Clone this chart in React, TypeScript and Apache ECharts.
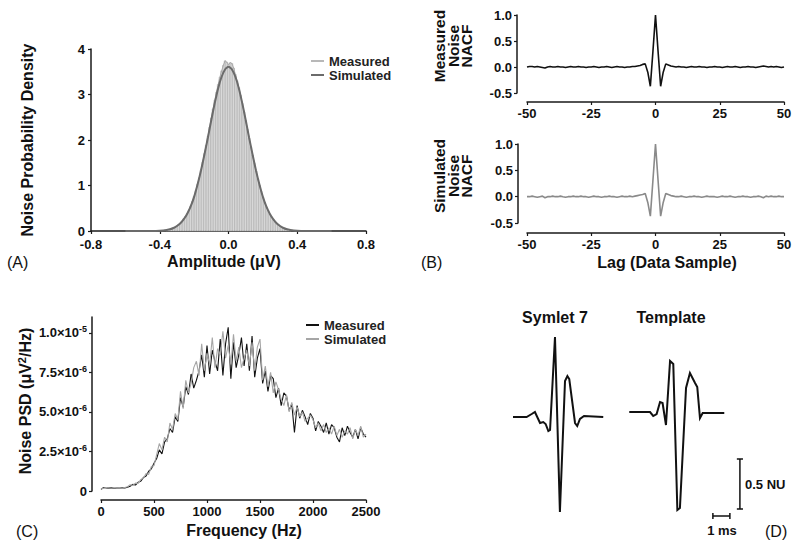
import React, { useEffect, useRef } from 'react';
import * as echarts from 'echarts';

const FONT = '"Liberation Sans", Arial, Helvetica, sans-serif';

// ---------- Panel A: noise amplitude distribution ----------
const histBinWidth = 0.01;
const histCenters = Array.from({ length: 73 }, (_, i) => Math.round((-0.36 + i * 0.01) * 100) / 100);
const measuredHist = [
  0.02, 0.03, 0.04, 0.05, 0.07, 0.08, 0.11, 0.14, 0.17, 0.21,
  0.27, 0.32, 0.39, 0.46, 0.55, 0.65, 0.76, 0.89, 1.03, 1.17,
  1.34, 1.51, 1.70, 1.88, 2.08, 2.28, 2.48, 2.68, 2.87, 3.05,
  3.22, 3.38, 3.52, 3.64, 3.74, 3.71,
  3.66,
  3.70, 3.68, 3.58, 3.44, 3.30, 3.15, 2.98, 2.80, 2.62, 2.43,
  2.24, 2.04, 1.85, 1.67, 1.49, 1.32, 1.15, 1.01, 0.87, 0.74,
  0.63, 0.53, 0.45, 0.37, 0.31, 0.25, 0.20, 0.16, 0.13, 0.10,
  0.08, 0.06, 0.05, 0.04, 0.03, 0.02,
];
const simAmp = [
  -0.60, -0.50, -0.44, -0.40, -0.38, -0.36, -0.34, -0.32, -0.30, -0.28, -0.26, -0.24,
  -0.22, -0.20, -0.18, -0.16, -0.14, -0.12, -0.10, -0.08, -0.06, -0.04, -0.02, 0.00,
  0.02, 0.04, 0.06, 0.08, 0.10, 0.12, 0.14, 0.16, 0.18, 0.20, 0.22, 0.24,
  0.26, 0.28, 0.30, 0.32, 0.34, 0.36, 0.38, 0.40, 0.44, 0.50, 0.60,
];
const simDensity = [
  0, 0.001, 0.002, 0.007, 0.012, 0.023, 0.039, 0.066, 0.11, 0.17, 0.26, 0.38,
  0.54, 0.75, 1.02, 1.33, 1.68, 2.05, 2.44, 2.81, 3.14, 3.39, 3.55, 3.61,
  3.55, 3.39, 3.14, 2.81, 2.44, 2.05, 1.68, 1.33, 1.02, 0.75, 0.54, 0.38,
  0.26, 0.17, 0.11, 0.066, 0.039, 0.023, 0.012, 0.007, 0.002, 0.001, 0,
];
const ampTicks = [-0.8, -0.4, 0, 0.4, 0.8];

// ---------- Panel B: normalized autocorrelation ----------
const lags = Array.from({ length: 101 }, (_, i) => i - 50);
const nacfMeasured = [
  0.00, 0.01, 0.01, 0.00, 0.01, 0.00, -0.01, -0.02, 0.00, 0.01,
  0.00, 0.00, 0.01, 0.00, 0.00, -0.01, 0.00, 0.01, 0.00, 0.00,
  0.01, 0.00, 0.00, -0.01, 0.00, 0.00, 0.01, 0.00, -0.01, 0.00,
  0.00, 0.01, 0.00, -0.01, 0.00, 0.01, 0.00, 0.00, -0.01, 0.00,
  0.00, 0.01,
  0.01, 0.02, 0.03, 0.05, 0.06, -0.10, -0.37, 0.30, 1.00, 0.30, -0.37, -0.10, 0.06, 0.04, 0.02, 0.01, 0.00,
  0.01, 0.00, 0.00, -0.01, 0.00, 0.01, 0.00, 0.00, 0.01, 0.00,
  0.00, -0.01, 0.00, 0.00, 0.01, 0.00, 0.00, -0.01, 0.00, 0.01,
  0.00, 0.00, 0.01, 0.00, -0.01, 0.00, 0.00, 0.01, 0.00, 0.00,
  -0.01, 0.00, 0.01, 0.02, 0.01, 0.00, 0.01, 0.00, 0.01, 0.00,
  -0.01, 0.00,
];
const nacfSimulated = [
  0.00, 0.00, 0.01, 0.00, -0.01, 0.00, 0.01, -0.02, 0.00, 0.00,
  0.01, 0.00, 0.00, 0.01, 0.00, -0.01, 0.00, 0.00, 0.01, 0.00,
  0.00, 0.01, 0.00, 0.00, -0.01, 0.00, 0.01, 0.00, 0.00, -0.01,
  0.00, 0.00, 0.01, 0.00, 0.00, -0.01, 0.00, 0.01, 0.00, 0.00,
  0.01, 0.00,
  0.01, 0.02, 0.03, 0.04, 0.06, -0.11, -0.37, 0.31, 1.00, 0.31, -0.37, -0.11, 0.06, 0.04, 0.02, 0.01, 0.00,
  0.00, 0.01, 0.00, -0.01, 0.00, 0.00, 0.01, 0.00, 0.00, -0.01,
  0.00, 0.01, 0.00, 0.00, 0.00, -0.01, 0.00, 0.01, 0.00, 0.00,
  0.01, 0.00, -0.01, 0.00, 0.00, 0.01, 0.00, 0.00, -0.01, 0.00,
  0.00, 0.01, 0.00, -0.02, 0.01, 0.00, 0.01, 0.00, 0.00, 0.01,
  0.00, 0.00,
];

// ---------- Panel C: power spectral density (units of 1e-6 µV²/Hz) ----------
const psdFreq = Array.from({ length: 101 }, (_, i) => i * 25);
const psdMeasured = [
  0.10, 0.22, 0.20, 0.18, 0.20, 0.17, 0.19, 0.18, 0.20, 0.19,
  0.24, 0.30, 0.42, 0.38, 0.55, 0.62, 0.85, 0.95, 1.25, 1.40,
  1.75, 2.05, 2.60, 2.35, 3.10, 3.30, 3.95, 3.70, 4.70, 4.40,
  5.90, 5.30, 6.60, 6.10, 7.40, 6.50, 7.00, 7.60, 8.60, 7.20,
  9.20, 7.40, 8.90, 8.20, 7.60, 9.60, 7.30, 9.30, 10.35, 7.10,
  9.40, 7.80, 8.60, 9.70, 7.90, 9.30, 7.60, 9.80, 7.20, 8.40,
  9.00, 6.80, 7.60, 6.30, 7.30, 7.10, 5.90, 6.50, 5.40, 6.20,
  6.00, 5.10, 5.50, 3.70, 5.40, 4.60, 5.10, 4.70, 4.20, 4.90,
  4.60, 3.80, 4.40, 4.10, 3.70, 4.30, 3.60, 4.20, 4.00, 3.40,
  3.10, 4.00, 3.50, 4.10, 3.70, 3.40, 3.90, 3.30, 4.00, 3.60,
  3.40,
];
const psdSimulated = [
  0.12, 0.18, 0.22, 0.19, 0.17, 0.21, 0.18, 0.20, 0.17, 0.22,
  0.27, 0.40, 0.35, 0.50, 0.48, 0.72, 0.80, 1.10, 1.05, 1.55,
  1.60, 2.30, 3.00, 2.60, 3.40, 3.10, 4.30, 3.90, 4.90, 4.50,
  6.30, 5.20, 7.00, 6.20, 6.80, 7.80, 8.20, 7.30, 9.30, 7.60,
  8.70, 8.00, 9.70, 7.80, 9.00, 8.60, 10.10, 8.40, 9.20, 8.00,
  9.90, 8.20, 9.10, 7.80, 8.40, 8.90, 7.90, 9.40, 7.60, 9.10,
  9.60, 7.00, 7.90, 6.60, 7.50, 6.20, 6.90, 6.40, 5.80, 5.40,
  6.10, 5.00, 5.60, 4.80, 5.30, 4.70, 5.00, 4.40, 4.60, 4.80,
  4.50, 4.00, 4.30, 3.80, 4.20, 3.70, 4.00, 3.60, 4.10, 3.50,
  3.90, 3.40, 3.80, 3.60, 4.00, 3.30, 3.90, 3.50, 4.10, 3.40,
  3.60,
];
const psdTickValues = [0, 2.5, 5, 7.5, 10];
const psdTickLabels: Record<string, string> = {
  '0': '0',
  '2.5': '{m|2.5×10}{s|-6}',
  '5': '{m|5.0×10}{s|-6}',
  '7.5': '{m|7.5×10}{s|-6}',
  '10': '{m|1.0×10}{s|-5}',
};

// ---------- Panel D: wavelet vs template (time in ms, amplitude in NU) ----------
const symletT = [0, 0.8, 1.10, 1.29, 1.59, 1.78, 1.92, 2.08, 2.18, 2.47, 2.76, 3.06, 3.20, 3.31, 3.65, 3.78, 3.94, 4.18, 5.31];
const symletA = [0, 0, 0.03, 0.05, -0.06, -0.05, -0.07, -0.14, -0.13, 0.80, -0.95, 0.36, 0.41, 0.38, -0.06, -0.09, -0.02, 0.01, 0];
const templateT = [6.84, 8.06, 8.25, 8.45, 8.65, 8.80, 9.00, 9.24, 9.43, 9.67, 9.82, 10.18, 10.41, 10.71, 10.84, 11.00, 11.16, 12.43];
const templateA = [0.05, 0.05, 0.01, 0.03, 0.15, 0.14, -0.08, 0.56, 0.53, -0.93, -0.91, 0.29, 0.44, 0.34, 0.30, -0.01, 0.04, 0.04];
const scaleBarNU = 0.5;
const scaleBarMs = 1;

const zip = (a: number[], b: number[]) => a.map((v, i) => [v, b[i]]);

const AX = '#1a1a1a';
const TICK_FONT = 13;
const axisBase = (extra: any = {}) => ({
  type: 'value',
  axisLine: { show: true, onZero: false, lineStyle: { color: AX, width: 1.5 } },
  axisTick: { show: true, length: 3, lineStyle: { color: AX, width: 1.2 } },
  splitLine: { show: false },
  ...extra,
  axisLabel: {
    color: '#111', fontFamily: FONT, fontWeight: 'bold', fontSize: TICK_FONT, margin: 5, lineHeight: 13,
    ...(extra.axisLabel || {}),
  },
});

const txt = (text: string, x: number, y: number, opts: any = {}) => ({
  type: 'text',
  x,
  y,
  rotation: opts.rotate ? Math.PI / 2 : 0,
  silent: true,
  style: {
    text,
    fontFamily: FONT,
    fontSize: opts.size || 16,
    fontWeight: opts.weight || 'bold',
    fill: '#111',
    align: opts.align || 'center',
    verticalAlign: 'middle',
    lineHeight: opts.lineHeight || undefined,
    rich: opts.rich || undefined,
  },
});

export default function App() {
  const ref = useRef<HTMLDivElement>(null);
  useEffect(() => {
    const chart = echarts.init(ref.current!, null, { renderer: 'svg' });

    // scale bar geometry in data units (panel D)
    const vx = 13.35, vy0 = -0.92, capW = 0.18;
    const hy = -0.99, hx0 = 11.76, capH = 0.03;
    const vBar = [[vx, vy0], [vx, vy0 + scaleBarNU]];
    const vCapTop = [[vx - capW, vy0 + scaleBarNU], [vx + capW, vy0 + scaleBarNU]];
    const vCapBot = [[vx - capW, vy0], [vx + capW, vy0]];
    const hBar = [[hx0, hy], [hx0 + scaleBarMs, hy]];
    const hCapL = [[hx0, hy - capH], [hx0, hy + capH]];
    const hCapR = [[hx0 + scaleBarMs, hy - capH], [hx0 + scaleBarMs, hy + capH]];
    const barSeries = (data: number[][]) => ({
      type: 'line', xAxisIndex: 4, yAxisIndex: 4, data, symbol: 'none', silent: true,
      lineStyle: { color: '#111', width: 1.5, cap: 'butt' },
    });

    const legendCommon = {
      orient: 'vertical', icon: 'rect', itemWidth: 13, itemHeight: 2, itemGap: 0,
      selectedMode: false,
      formatter: (n: string) => n.split(' (')[0],
      textStyle: { fontFamily: FONT, fontWeight: 'bold', fontSize: 13, color: '#222', lineHeight: 14 },
    };

    const option: any = {
      animation: false,
      backgroundColor: '#fff',
      grid: [
        { left: 91, top: 49, width: 275, height: 182, containLabel: false, outerBoundsMode: 'none' },
        { left: 527, top: 15, width: 257, height: 78, containLabel: false, outerBoundsMode: 'none' },
        { left: 527, top: 144, width: 257, height: 79, containLabel: false, outerBoundsMode: 'none' },
        { left: 101, top: 317, width: 265, height: 174, containLabel: false, outerBoundsMode: 'none' },
        { left: 513, top: 330, width: 240, height: 190, containLabel: false, outerBoundsMode: 'none' },
      ],
      xAxis: [
        axisBase({ gridIndex: 0, min: ampTicks[0], max: ampTicks[ampTicks.length - 1], interval: 0.4,
          axisLabel: { formatter: (v: number) => v.toFixed(1), margin: 7 } }),
        axisBase({ gridIndex: 1, min: -50, max: 50, interval: 25, offset: 9 }),
        axisBase({ gridIndex: 2, min: -50, max: 50, interval: 25, offset: 10 }),
        axisBase({ gridIndex: 3, min: 0, max: 2500, interval: 500, offset: 9,
          axisLabel: { formatter: (v: number) => String(v) } }),
        { type: 'value', gridIndex: 4, min: 0, max: 14.12, show: false },
      ],
      yAxis: [
        axisBase({ gridIndex: 0, min: 0, max: 4, interval: 1, axisLabel: { margin: 6, lineHeight: 11 } }),
        axisBase({ gridIndex: 1, min: -0.5, max: 1, interval: 0.5, offset: 10,
          axisLabel: { formatter: (v: number) => v.toFixed(1) } }),
        axisBase({ gridIndex: 2, min: -0.5, max: 1, interval: 0.5, offset: 9,
          axisLabel: { formatter: (v: number) => v.toFixed(1) } }),
        axisBase({ gridIndex: 3, min: 0, max: 11, offset: 9,
          axisTick: { show: true, length: 3, customValues: psdTickValues, lineStyle: { color: AX, width: 1.2 } },
          axisLabel: {
            customValues: psdTickValues,
            formatter: (v: number) => psdTickLabels[String(v)] ?? '',
            rich: {
              m: { fontFamily: FONT, fontWeight: 'bold', fontSize: 13, color: '#111', lineHeight: 16 },
              s: { fontFamily: FONT, fontWeight: 'bold', fontSize: 9, color: '#111', verticalAlign: 'top', lineHeight: 16 },
            },
          } }),
        { type: 'value', gridIndex: 4, min: -1.03, max: 0.87, show: false },
      ],
      legend: [
        { ...legendCommon, left: 306, top: 49, data: ['Measured (A)', 'Simulated (A)'] },
        { ...legendCommon, left: 301, top: 313, data: ['Measured (C)', 'Simulated (C)'] },
      ],
      series: [
        {
          type: 'custom', name: 'hist', xAxisIndex: 0, yAxisIndex: 0,
          data: zip(histCenters, measuredHist),
          renderItem: (params: any, api: any) => {
            const x = api.value(0), y = api.value(1);
            const p0 = api.coord([x - histBinWidth / 2, y]);
            const p1 = api.coord([x + histBinWidth / 2, 0]);
            return {
              type: 'rect',
              shape: { x: p0[0], y: p0[1], width: p1[0] - p0[0], height: p1[1] - p0[1] },
              style: { fill: '#e2e2e2', stroke: '#a0a0a0', lineWidth: 0.5 },
            };
          },
        },
        {
          type: 'line', name: 'Measured (A)', xAxisIndex: 0, yAxisIndex: 0,
          data: zip(histCenters, measuredHist), symbol: 'none',
          itemStyle: { color: '#b8b8b8' }, lineStyle: { color: '#a8a8a8', width: 1 },
        },
        {
          type: 'line', name: 'Simulated (A)', xAxisIndex: 0, yAxisIndex: 0,
          data: zip(simAmp, simDensity), symbol: 'none', smooth: 0.2,
          itemStyle: { color: '#6b6b6b' }, lineStyle: { color: '#6b6b6b', width: 2 },
        },
        {
          type: 'line', name: 'NACF measured', xAxisIndex: 1, yAxisIndex: 1,
          data: zip(lags, nacfMeasured), symbol: 'none',
          lineStyle: { color: '#111', width: 1.6 },
        },
        {
          type: 'line', name: 'NACF simulated', xAxisIndex: 2, yAxisIndex: 2,
          data: zip(lags, nacfSimulated), symbol: 'none',
          lineStyle: { color: '#8a8a8a', width: 1.6 },
        },
        {
          type: 'line', name: 'Measured (C)', xAxisIndex: 3, yAxisIndex: 3,
          data: zip(psdFreq, psdMeasured), symbol: 'none',
          itemStyle: { color: '#111' }, lineStyle: { color: '#111', width: 1.1 },
        },
        {
          type: 'line', name: 'Simulated (C)', xAxisIndex: 3, yAxisIndex: 3,
          data: zip(psdFreq, psdSimulated), symbol: 'none',
          itemStyle: { color: '#a6a6a6' }, lineStyle: { color: '#a6a6a6', width: 1.1 },
        },
        {
          type: 'line', name: 'Symlet 7', xAxisIndex: 4, yAxisIndex: 4,
          data: zip(symletT, symletA), symbol: 'none',
          lineStyle: { color: '#111', width: 2, join: 'miter' },
        },
        {
          type: 'line', name: 'Template', xAxisIndex: 4, yAxisIndex: 4,
          data: zip(templateT, templateA), symbol: 'none',
          lineStyle: { color: '#111', width: 2, join: 'miter' },
        },
        barSeries(vBar), barSeries(vCapTop), barSeries(vCapBot),
        barSeries(hBar), barSeries(hCapL), barSeries(hCapR),
      ],
      graphic: {
        elements: [
          txt('Noise Probability Density', 27, 140, { rotate: true }),
          txt('Amplitude (μV)', 224, 261),
          txt('(A)', 7, 262, { weight: 'normal', size: 16, align: 'left' }),
          txt('Measured\nNoise\nNACF', 453, 46, { rotate: true, lineHeight: 13.5, size: 15.5 }),
          txt('Simulated\nNoise\nNACF', 453, 176, { rotate: true, lineHeight: 13.5, size: 15.5 }),
          txt('Lag (Data Sample)', 667, 262),
          txt('(B)', 421, 262, { weight: 'normal', size: 16, align: 'left' }),
          txt('{a|Noise PSD (μV}{s|2}{a|/Hz)}', 25, 401, {
            rotate: true,
            rich: {
              a: { fontFamily: FONT, fontWeight: 'bold', fontSize: 16, fill: '#111', lineHeight: 18 },
              s: { fontFamily: FONT, fontWeight: 'bold', fontSize: 11, fill: '#111', verticalAlign: 'top', lineHeight: 18 },
            },
          }),
          txt('Frequency (Hz)', 244, 530),
          txt('(C)', 16, 531, { weight: 'normal', size: 16, align: 'left' }),
          txt('Symlet 7', 555, 317, { size: 16 }),
          txt('Template', 671, 317, { size: 16 }),
          txt('0.5 NU', 745, 484, { size: 13, align: 'left' }),
          txt('1 ms', 722, 530, { size: 13 }),
          txt('(D)', 765, 531, { weight: 'normal', size: 16, align: 'left' }),
        ],
      },
    };
    chart.setOption(option);
    return () => chart.dispose();
  }, []);
  return (
    <div
      ref={ref}
      style={{ position: 'absolute', left: 0, top: 0, width: 800, height: 546, background: '#fff' }}
    />
  );
}
